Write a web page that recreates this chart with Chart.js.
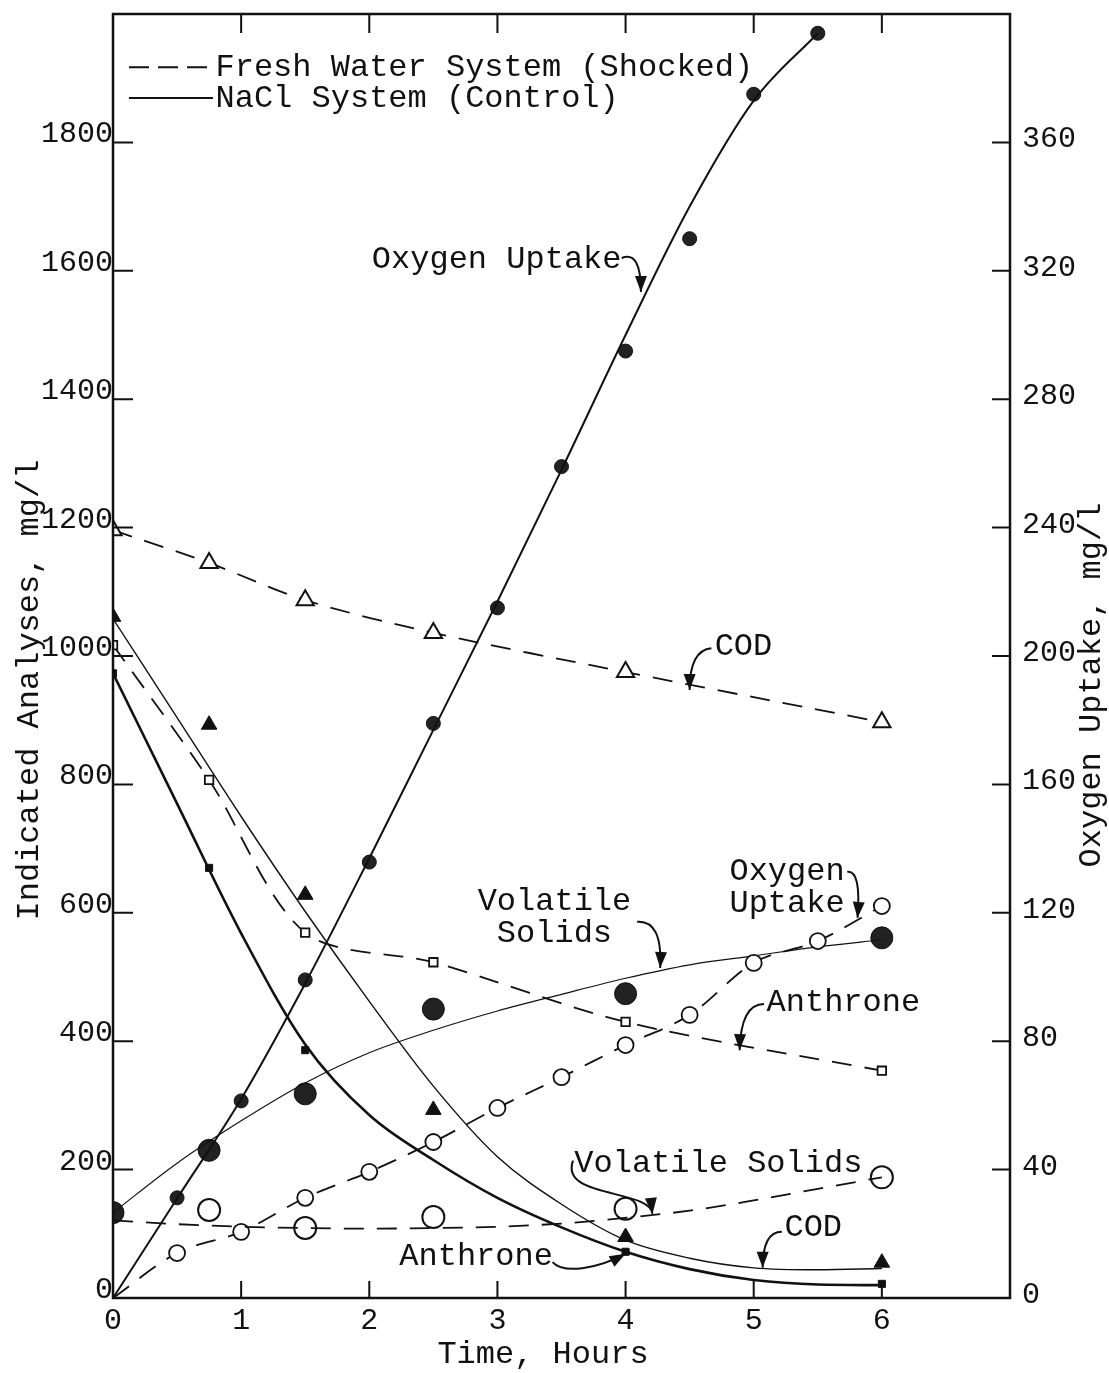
<!DOCTYPE html>
<html>
<head>
<meta charset="utf-8">
<script src="https://cdn.jsdelivr.net/npm/chart.js@4.4.1/dist/chart.umd.min.js"></script>
<style>
  body { margin: 0; background: #fff; }
  canvas { display: block; }
</style>
</head>
<body>
<canvas id="chart" width="1109" height="1373"></canvas>
<script>
// sampling times, hours
const sampleTimes = [0, 0.75, 1.5, 2.5, 4, 6]
const curveTimes = [0, 0.5, 1, 1.5, 2, 2.5, 3, 3.5, 4, 4.5, 5, 5.5, 6]
const oxygenTimes = [0, 0.5, 1, 1.5, 2, 2.5, 3, 3.5, 4, 4.5, 5, 5.5, 6]

// fresh water system (shocked), mg/l
const freshCOD = [1196, 1145, 1087, 1036, 975, 897]
const freshAnthrone = [1017, 807, 569, 523, 430, 354]
const freshVSTimes = [0.75, 1.5, 2.5, 4, 6]
const freshVS = [137, 109, 126, 139, 188]
const freshVSCurve = [121, 115, 111, 109, 108, 109, 111, 116, 125, 136, 152, 170, 188]
const freshOxygen = [0, 14.0, 20.6, 31.2, 39.3, 48.6, 59.2, 68.8, 78.8, 88.2, 104.4, 111.2, 122.1]

// NaCl system (control), mg/l
const naclCOD = [1061, 893, 628, 293, 95, 55]
const naclCODCurve = [1058, 904, 750, 602, 462, 330, 220, 146, 90, 62, 47, 44, 46]
const naclAnthroneTimes = [0, 0.75, 1.5, 4, 6]
const naclAnthrone = [973, 670, 386, 72, 22]
const naclAnthroneCurve = [973, 770, 568, 395, 285, 215, 156, 110, 72, 45, 28, 21, 20]
const naclVS = [133, 230, 318, 450, 474, 561]
const naclVSCurve = [133, 210, 276, 335, 382, 417, 447, 473, 498, 519, 533, 547, 558]
const naclOxygen = [0, 31.2, 61.4, 99.1, 135.8, 179, 215, 259, 295, 330, 375, 394]
const naclOxygenCurve = [0, 31, 62, 98, 137, 177, 217, 258, 300, 340, 373, 394]

// tick labels
const xTickLabels = ['0', '1', '2', '3', '4', '5', '6']
const yTickLabels = ['0', '200', '400', '600', '800', '1000', '1200', '1400', '1600', '1800']
const y2TickLabels = ['0', '40', '80', '120', '160', '200', '240', '280', '320', '360']

const FONT = '"Liberation Mono", "Courier New", monospace'
const INK = '#111'
const DASH = [20, 13]

function pts(xs, ys) {
    return ys.map((v, i) => ({ x: xs[i], y: v }))
}

// annotation labels, placed in data units (hours, left axis mg/l)
const notes = [
    { text: ['Oxygen Uptake'], at: [2.02, 1617], align: 'left', arrow: [[3.97, 1620], [4.12, 1632], [4.12, 1567]] },
    { text: ['COD'], at: [4.695, 1014], align: 'left', arrow: [[4.67, 1012], [4.5, 1009], [4.5, 947]] },
    { text: ['Oxygen', 'Uptake'], at: [5.26, 664], align: 'center', arrow: [[5.73, 664], [5.84, 667], [5.81, 592]] },
    { text: ['Volatile', 'Solids'], at: [3.445, 617], align: 'center', arrow: [[4.09, 586], [4.29, 589], [4.27, 514]] },
    { text: ['Anthrone'], at: [5.10, 461], align: 'left', arrow: [[5.08, 458], [4.9, 458], [4.89, 386]] },
    { text: ['Volatile Solids'], at: [3.60, 210], align: 'left', arrow: [[3.59, 214], [3.48, 155], [4.19, 170], [4.21, 131]] },
    { text: ['COD'], at: [5.24, 109], align: 'left', arrow: [[5.22, 103], [5.07, 103], [5.07, 47]] },
    { text: ['Anthrone'], at: [2.234, 64], align: 'left', arrow: [[3.43, 56], [3.52, 36], [3.80, 47], [4.0, 69]] }
]

const paperPlugin = {
    id: 'paper',
    afterDraw(chart) {
        const { ctx, chartArea: a, scales } = chart
        const sx = scales.x, sy = scales.y, sy2 = scales.y2
        const px = v => sx.getPixelForValue(v)
        const py = v => sy.getPixelForValue(v)

        ctx.save()
        ctx.strokeStyle = INK
        ctx.fillStyle = INK

        // frame
        ctx.lineWidth = 2.5
        ctx.strokeRect(a.left, a.top, a.right - a.left, a.bottom - a.top)

        // inward tick marks
        ctx.lineWidth = 2
        ctx.beginPath()
        sx.ticks.forEach(t => {
            if (t.value <= 0 || t.value >= sx.max) return
            const x = px(t.value)
            ctx.moveTo(x, a.bottom); ctx.lineTo(x, a.bottom - 17)
            ctx.moveTo(x, a.top); ctx.lineTo(x, a.top + 19)
        })
        sy.ticks.forEach(t => {
            if (t.value <= 0 || t.value >= sy.max) return
            const y = py(t.value)
            ctx.moveTo(a.left, y); ctx.lineTo(a.left + 20, y)
        })
        sy2.ticks.forEach(t => {
            if (t.value <= 0 || t.value >= sy2.max) return
            const y = sy2.getPixelForValue(t.value)
            ctx.moveTo(a.right, y); ctx.lineTo(a.right - 18, y)
        })
        ctx.stroke()

        // legend
        ctx.font = '32px ' + FONT
        ctx.textBaseline = 'middle'
        ctx.textAlign = 'left'
        ctx.lineWidth = 2
        ctx.setLineDash([20, 9])
        ctx.beginPath()
        ctx.moveTo(px(0.125), py(1917)); ctx.lineTo(px(0.78), py(1917))
        ctx.stroke()
        ctx.setLineDash([])
        ctx.beginPath()
        ctx.moveTo(px(0.125), py(1869)); ctx.lineTo(px(0.78), py(1869))
        ctx.stroke()
        ctx.fillText('Fresh Water System (Shocked)', px(0.8), py(1917))
        ctx.fillText('NaCl System (Control)', px(0.8), py(1869))

        // annotations with curved arrows
        notes.forEach(n => {
            ctx.textAlign = n.align
            n.text.forEach((s, i) => ctx.fillText(s, px(n.at[0]), py(n.at[1]) + i * 32))
            const p = n.arrow.map(q => [px(q[0]), py(q[1])])
            ctx.lineWidth = 2
            ctx.beginPath()
            ctx.moveTo(p[0][0], p[0][1])
            if (p.length === 3) ctx.quadraticCurveTo(p[1][0], p[1][1], p[2][0], p[2][1])
            else ctx.bezierCurveTo(p[1][0], p[1][1], p[2][0], p[2][1], p[3][0], p[3][1])
            ctx.stroke()
            const end = p[p.length - 1], prev = p[p.length - 2]
            const ang = Math.atan2(end[1] - prev[1], end[0] - prev[0])
            ctx.beginPath()
            ctx.moveTo(end[0], end[1])
            ctx.lineTo(end[0] - 16 * Math.cos(ang) + 6 * Math.sin(ang), end[1] - 16 * Math.sin(ang) - 6 * Math.cos(ang))
            ctx.lineTo(end[0] - 16 * Math.cos(ang) - 6 * Math.sin(ang), end[1] - 16 * Math.sin(ang) + 6 * Math.cos(ang))
            ctx.closePath()
            ctx.fill()
        })

        // axis titles
        ctx.textAlign = 'center'
        ctx.fillText('Time, Hours', 543, 1355)
        ctx.save()
        ctx.translate(30, 690)
        ctx.rotate(-Math.PI / 2)
        ctx.fillText('Indicated Analyses, mg/l', 0, 0)
        ctx.restore()
        ctx.save()
        ctx.translate(1092, 685)
        ctx.rotate(-Math.PI / 2)
        ctx.fillText('Oxygen Uptake, mg/l', 0, 0)
        ctx.restore()

        ctx.restore()
    }
}

const chart = new Chart(document.getElementById('chart'), {
    type: 'scatter',
    data: {
        datasets: [
            // fitted / connecting curves
            { data: pts(sampleTimes, freshCOD), showLine: true, tension: 0.3, borderColor: INK, borderWidth: 1.8, borderDash: DASH, pointStyle: 'triangle', pointRadius: 10, pointBackgroundColor: '#fff', pointBorderColor: INK, pointBorderWidth: 2 },
            { data: pts(sampleTimes, freshAnthrone), showLine: true, tension: 0.3, borderColor: INK, borderWidth: 1.8, borderDash: DASH, pointStyle: 'rect', pointRadius: 6, pointBackgroundColor: '#fff', pointBorderColor: INK, pointBorderWidth: 1.8 },
            { data: pts(curveTimes, freshVSCurve), showLine: true, cubicInterpolationMode: 'monotone', borderColor: INK, borderWidth: 1.8, borderDash: DASH, pointRadius: 0 },
            { data: pts(oxygenTimes, freshOxygen), yAxisID: 'y2', showLine: true, cubicInterpolationMode: 'monotone', borderColor: INK, borderWidth: 1.8, borderDash: DASH, pointRadius: freshOxygen.map((v, i) => i === 0 ? 0 : 8), pointBackgroundColor: '#fff', pointBorderColor: INK, pointBorderWidth: 1.8 },
            { data: pts(curveTimes, naclCODCurve), showLine: true, cubicInterpolationMode: 'monotone', borderColor: INK, borderWidth: 1.4, pointRadius: 0 },
            { data: pts(curveTimes, naclAnthroneCurve), showLine: true, cubicInterpolationMode: 'monotone', borderColor: INK, borderWidth: 2.6, pointRadius: 0 },
            { data: pts(curveTimes, naclVSCurve), showLine: true, cubicInterpolationMode: 'monotone', borderColor: INK, borderWidth: 1.2, pointRadius: 0 },
            { data: pts(oxygenTimes, naclOxygenCurve), yAxisID: 'y2', showLine: true, cubicInterpolationMode: 'monotone', borderColor: INK, borderWidth: 2, pointRadius: 0 },
            // markers only
            { data: pts(oxygenTimes.slice(1), naclOxygen.slice(1)), yAxisID: 'y2', showLine: false, pointRadius: 7, pointBackgroundColor: '#222', pointBorderColor: INK, pointBorderWidth: 1 },
            { data: pts(freshVSTimes, freshVS), showLine: false, pointRadius: 11, pointBackgroundColor: '#fff', pointBorderColor: INK, pointBorderWidth: 2 },
            { data: pts(sampleTimes, naclCOD), showLine: false, pointStyle: 'triangle', pointRadius: 9, pointBackgroundColor: INK, pointBorderColor: INK, pointBorderWidth: 1 },
            { data: pts(naclAnthroneTimes, naclAnthrone), showLine: false, pointStyle: 'rect', pointRadius: 5, pointBackgroundColor: INK, pointBorderColor: INK, pointBorderWidth: 1 },
            { data: pts(sampleTimes, naclVS), showLine: false, pointRadius: 11, pointBackgroundColor: '#222', pointBorderColor: INK, pointBorderWidth: 1 }
        ]
    },
    options: {
        responsive: false,
        animation: false,
        layout: { padding: { top: 14 } },
        plugins: { legend: { display: false }, tooltip: { enabled: false } },
        scales: {
            x: {
                type: 'linear', min: 0, max: 7,
                afterFit: s => { s.height = 75; s.paddingLeft = 0; s.paddingRight = 0 },
                grid: { display: false, drawTicks: false },
                border: { display: false },
                ticks: { stepSize: 1, padding: 5, color: INK, font: { family: FONT, size: 30 }, callback: v => xTickLabels[v] ?? '' }
            },
            y: {
                position: 'left', min: 0, max: 2000,
                afterFit: s => { s.width = 113; s.paddingTop = 0; s.paddingBottom = 0 },
                grid: { display: false, drawTicks: false },
                border: { display: false },
                ticks: { stepSize: 200, padding: 0, labelOffset: -8, color: INK, font: { family: FONT, size: 30 }, callback: v => yTickLabels[v / 200] ?? '' }
            },
            y2: {
                position: 'right', min: 0, max: 400,
                afterFit: s => { s.width = 99; s.paddingTop = 0; s.paddingBottom = 0 },
                grid: { display: false, drawTicks: false },
                border: { display: false },
                ticks: { stepSize: 40, padding: 12, labelOffset: -3, color: INK, font: { family: FONT, size: 30 }, callback: v => y2TickLabels[v / 40] ?? '' }
            }
        }
    },
    plugins: [paperPlugin]
})
</script>
</body>
</html>
